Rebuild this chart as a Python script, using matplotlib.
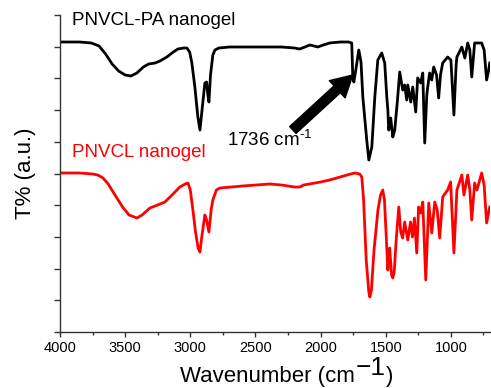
import matplotlib
matplotlib.use("Agg")
import matplotlib.pyplot as plt
from matplotlib.ticker import MultipleLocator, NullFormatter

plt.rcParams['font.family'] = ['Liberation Sans', 'DejaVu Sans']
plt.rcParams['mathtext.fontset'] = 'custom'
plt.rcParams['mathtext.rm'] = 'Liberation Sans'
plt.rcParams['mathtext.it'] = 'Liberation Sans'

# PNVCL-PA nanogel (black)
wn_pa = [4000, 3850, 3760, 3700, 3650, 3600, 3550, 3500, 3456, 3410, 3360, 3320, 3270, 3233,
         3180, 3130, 3095, 3050, 3026, 3005, 2988, 2965, 2942, 2926, 2910, 2888, 2875, 2865,
         2857, 2845, 2827, 2811, 2780, 2700, 2600, 2500, 2400, 2300, 2200, 2160, 2120, 2083,
         2050, 2021, 1980, 1930, 1850, 1784, 1761, 1753, 1745, 1730, 1707, 1690, 1676, 1646,
         1630, 1607, 1584, 1561, 1531, 1508, 1492, 1484, 1477, 1462, 1446, 1431, 1410, 1393,
         1370, 1355, 1339, 1331, 1308, 1293, 1270, 1255, 1232, 1216, 1201, 1185, 1178, 1163,
         1147, 1132, 1110, 1094, 1080, 1063, 1025, 1000, 977, 960, 954, 916, 893, 871, 855,
         840, 818, 790, 764, 745, 726, 710, 702]
t_pa = [290, 290, 289, 286, 278, 268, 261, 257, 256, 259, 265, 268, 269, 271,
        275, 280, 283, 284, 284, 280, 269, 245, 215, 202, 222, 249, 250, 237,
        230, 257, 277, 282, 284, 285, 285, 285, 285, 285, 284, 283, 285, 287,
        286, 285, 287, 289, 290, 290, 289, 255, 250, 262, 282, 270, 235, 192,
        172, 185, 235, 272, 279, 269, 235, 222, 202, 214, 195, 202, 232, 260,
        242, 247, 232, 247, 230, 245, 220, 254, 249, 259, 189, 237, 245, 259,
        252, 265, 257, 234, 257, 269, 275, 272, 217, 267, 275, 285, 274, 289, 282,
        255, 289, 289, 289, 282, 252, 262, 269]

# PNVCL nanogel (red)
wn_pn = [4000, 3850, 3750, 3710, 3670, 3630, 3578, 3520, 3470, 3410, 3370, 3310, 3250, 3195, 3140,
         3080, 3040, 3018, 3000, 2980, 2960, 2940, 2926, 2910, 2888, 2875, 2857, 2840, 2827,
         2800, 2773, 2600, 2390, 2300, 2200, 2160, 2130, 2000, 1930, 1850, 1770, 1738, 1700,
         1684, 1670, 1650, 1630, 1622, 1610, 1590, 1560, 1540, 1523, 1510, 1495, 1484, 1477,
         1470, 1455, 1446, 1435, 1420, 1400, 1385, 1370, 1355, 1331, 1310, 1295, 1280, 1262,
         1248, 1232, 1216, 1193, 1170, 1147, 1124, 1105, 1086, 1063, 1025, 1002, 977, 954,
         916, 900, 871, 855, 840, 818, 800, 764, 745, 726, 702]
t_pn = [159, 159, 158, 157, 154, 148, 137, 125, 117, 114, 117, 124, 127, 130, 137,
        145, 148, 149, 142, 122, 100, 84, 80, 97, 117, 112, 100, 122, 132,
        142, 144, 146, 148, 147, 145, 145, 147, 150, 152, 155, 158, 159, 158,
        155, 132, 72, 40, 35, 42, 82, 122, 137, 142, 132, 92, 62, 74,
        84, 57, 54, 60, 92, 125, 100, 94, 110, 92, 110, 95, 114, 79,
        125, 119, 130, 52, 129, 99, 130, 122, 94, 135, 142, 150, 79, 142,
        157, 137, 157, 142, 112, 149, 142, 159, 147, 109, 125]

W, H = 491, 388
fig = plt.figure(figsize=(W / 100, H / 100), dpi=100)
ax = fig.add_axes([60 / W, 56 / H, 430 / W, 317 / H])

ax.plot(wn_pa, t_pa, color='black', lw=2.0, solid_joinstyle='round')
ax.plot(wn_pn, t_pn, color='#ff0000', lw=2.0, solid_joinstyle='round')

ax.set_xlim(4000, 700)
ax.set_ylim(0, 317)
ax.xaxis.set_major_locator(MultipleLocator(500))
ax.xaxis.set_minor_locator(MultipleLocator(250))
ax.yaxis.set_major_locator(MultipleLocator(31.7))
ax.yaxis.set_major_formatter(NullFormatter())
ax.spines['top'].set_visible(False)
ax.spines['right'].set_visible(False)
for s in ('left', 'bottom'):
    ax.spines[s].set_linewidth(1.0)
    ax.spines[s].set_color('#333333')
ax.tick_params(axis='x', which='major', length=3.5, width=1, labelsize=10.5, pad=3,
               colors='#333333', labelcolor='black')
ax.tick_params(axis='x', which='minor', length=2.5, width=1, colors='#333333')
ax.tick_params(axis='y', which='major', length=4, width=1, colors='#333333')

ax.set_ylabel('T% (a.u.)', fontsize=16, labelpad=10)

# x label built from pieces: large superscript as in the original
renderer = fig.canvas.get_renderer()
base_y = (H - 382) / H
t1 = fig.text(180 / W, base_y, 'Wavenumber (cm', fontsize=16, va='baseline', ha='left')
bb1 = t1.get_window_extent(renderer)
t2 = fig.text((bb1.x1 + 0.5) / W, base_y + 7 / H, '\u22121', fontsize=19, va='baseline', ha='left')
bb2 = t2.get_window_extent(renderer)
fig.text((bb2.x1 + 1) / W, base_y, ')', fontsize=16, va='baseline', ha='left')

ax.text(3908, 312, 'PNVCL-PA nanogel', fontsize=13.5, color='black', ha='left', va='center')
ax.text(3908, 180, 'PNVCL nanogel', fontsize=13.5, color='#ff0000', ha='left', va='center')

ax.annotate('', xy=(1753, 257), xytext=(2213, 202),
            arrowprops=dict(arrowstyle='simple,head_length=0.95,head_width=1.05,tail_width=0.42',
                            mutation_scale=16, color='black', shrinkA=0, shrinkB=0))
ax.text(2390, 192, r'1736 cm$^{\text{-1}}$', fontsize=13.5, ha='center', va='center')

fig.savefig('out.png', dpi=100)
